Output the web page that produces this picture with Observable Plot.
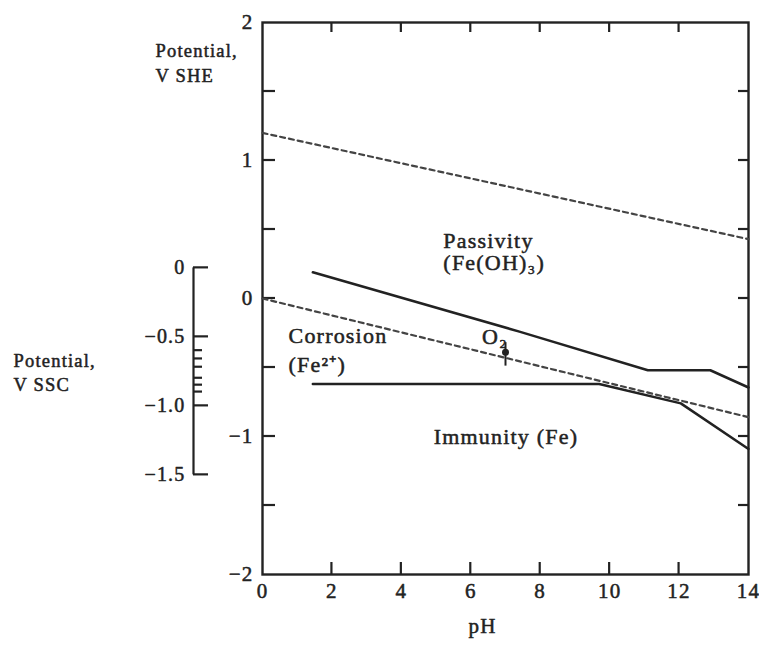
<!DOCTYPE html>
<html><head><meta charset="utf-8">
<script src="https://cdn.jsdelivr.net/npm/d3@7"></script>
<script src="https://cdn.jsdelivr.net/npm/@observablehq/plot@0.6"></script>
<style>
html,body{margin:0;padding:0;background:#fff;}
#chart svg{display:block;}
#chart svg text{letter-spacing:1.2px;}
</style></head><body><div id="chart"></div>
<script>
// ---- axes / ticks ----
const phLabels = [0, 2, 4, 6, 8, 10, 12, 14];
const phInnerTicks = [2, 4, 6, 8, 10, 12];
const sheLabels = [-2, -1, 0, 1, 2];
const sheTicks = [-1.5, -1, -0.5, 0, 0.5, 1, 1.5];
const sscMajor = [0, -0.5, -1.0, -1.5];
const sscMinor = [-0.6, -0.66, -0.72, -0.8, -0.85, -0.9];
const sscOffset = 0.222; // V SSC + offset = V SHE

// ---- boundary lines (pH, potential V SHE) ----
const o2Ph = [0, 14];            const o2E = [1.20, 0.43];      // water oxidation (dashed)
const h2Ph = [0, 14];            const h2E = [0.00, -0.86];     // hydrogen evolution (dashed)
const passPh = [1.45, 7.4, 11.1, 12.9, 14];  const passE = [0.19, -0.24, -0.52, -0.52, -0.645];
const immPh = [1.45, 9.7, 12.05, 14];        const immE = [-0.62, -0.62, -0.76, -1.09];

// ---- O2 measurement point ----
const o2PointPh = [7.0];  const o2PointE = [-0.39];
const o2BarLow = [-0.49]; const o2BarHigh = [-0.32];

// ---- region labels ----
const regionText = ["Passivity", "(Fe(OH)₃)", "Corrosion", "(Fe²⁺)", "Immunity (Fe)", "O₂"];
const regionPh   = [5.21, 5.21, 0.75, 0.75, 4.93, 6.32];
const regionE    = [0.42, 0.255, -0.275, -0.48, -1.0, -0.28];

const ink = "#222";
const font = "'Liberation Serif', 'Times New Roman', serif";
const pts = (xs, ys) => xs.map((x, i) => ({x, y: ys[i]}));
const fmtSSC = d => d === 0 ? "0" : d3.format(".1f")(d);
const fmtInt = d => d3.format("d")(d);

function ticks(vals, side, len, dxPix = 0, yFn = d => d) {
  return (index, scales, values, dims) => {
    const g = d3.create("svg:g").attr("stroke", ink).attr("stroke-width", 2.2);
    const {width, height, marginLeft, marginRight, marginTop, marginBottom} = dims;
    for (const v of vals) {
      let x1, x2, y1, y2;
      if (side === "left") { y1 = y2 = scales.y(yFn(v)); x1 = marginLeft + dxPix; x2 = x1 + len; }
      else if (side === "right") { y1 = y2 = scales.y(v); x1 = width - marginRight; x2 = x1 - len; }
      else if (side === "top") { x1 = x2 = scales.x(v); y1 = marginTop; y2 = y1 + len; }
      else { x1 = x2 = scales.x(v); y1 = height - marginBottom; y2 = y1 - len; }
      g.append("line").attr("x1", x1).attr("x2", x2).attr("y1", y1).attr("y2", y2);
    }
    return g.node();
  };
}

const txt = {fill: ink, stroke: ink, strokeWidth: 0.5, fontFamily: font};

const chart = Plot.plot({
  width: 759, height: 648,
  marginLeft: 262, marginRight: 11, marginTop: 22, marginBottom: 74,
  x: {domain: [0, 14], axis: null},
  y: {domain: [-2, 2], axis: null},
  style: {fontFamily: font, background: "#fff"},
  marks: [
    Plot.frame({stroke: ink, strokeWidth: 2.4}),
    ticks(sheTicks, "left", 13),
    ticks(sheTicks, "right", 10),
    ticks(phInnerTicks, "top", 10),
    ticks(phInnerTicks, "bottom", 12),
    // tick labels
    Plot.text(sheLabels, {x: 0, y: d => d, dx: -9, textAnchor: "end", text: fmtInt, fontSize: 21, ...txt}),
    Plot.text(phLabels, {x: d => d, y: -2, dy: 17, text: fmtInt, fontSize: 21, ...txt}),
    // SSC secondary axis
    Plot.ruleX([0], {x: d => d, y1: sscMajor[0] + sscOffset, y2: sscMajor[sscMajor.length - 1] + sscOffset, dx: -69, stroke: ink, strokeWidth: 2.2}),
    ticks(sscMajor, "left", 15, -69, d => d + sscOffset),
    ticks(sscMinor, "left", 9, -69, d => d + sscOffset),
    Plot.text(sscMajor, {x: 0, y: d => d + sscOffset, dx: -77, textAnchor: "end", text: fmtSSC, fontSize: 20, ...txt}),
    // boundary lines
    Plot.line(pts(o2Ph, o2E), {x: "x", y: "y", stroke: "#444", strokeWidth: 2.2, strokeDasharray: "5,4"}),
    Plot.line(pts(h2Ph, h2E), {x: "x", y: "y", stroke: "#444", strokeWidth: 2.2, strokeDasharray: "5,4"}),
    Plot.line(pts(passPh, passE), {x: "x", y: "y", stroke: ink, strokeWidth: 2.5}),
    Plot.line(pts(immPh, immE), {x: "x", y: "y", stroke: ink, strokeWidth: 2.5}),
    // O2 point
    Plot.ruleX(o2PointPh, {x: d => d, y1: o2BarLow[0], y2: o2BarHigh[0], stroke: ink, strokeWidth: 2}),
    Plot.dot(pts(o2PointPh, o2PointE), {x: "x", y: "y", r: 3.5, fill: ink}),
    // region labels
    Plot.text(pts(regionPh, regionE).map((p, i) => ({...p, t: regionText[i]})), {x: "x", y: "y", text: "t", textAnchor: "start", fontSize: 22, ...txt}),
    // axis titles
    Plot.text(["Potential,\nV SHE"], {frameAnchor: "top-left", dx: -107, dy: 39, textAnchor: "start", lineAnchor: "middle", lineHeight: 1.35, fontSize: 18.5, ...txt}),
    Plot.text(["Potential,\nV SSC"], {frameAnchor: "top-left", dx: -249, dy: 349, textAnchor: "start", lineAnchor: "middle", lineHeight: 1.3, fontSize: 18.5, ...txt}),
    Plot.text(["pH"], {frameAnchor: "bottom", dx: -23, dy: 58, fontSize: 21, ...txt})
  ]
});
document.getElementById("chart").append(chart);
</script></body></html>
